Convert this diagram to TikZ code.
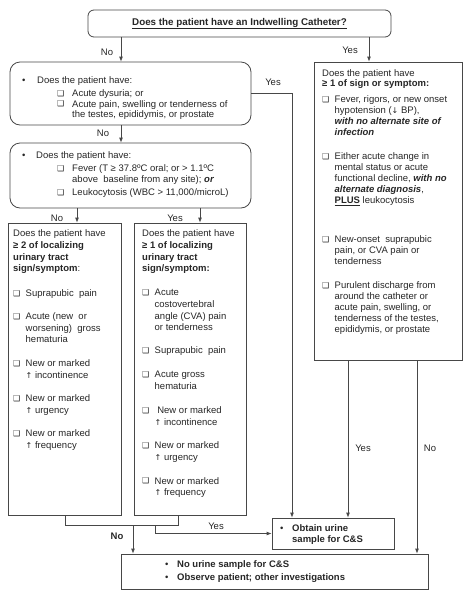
\documentclass[tikz,border=0pt]{standalone}
\usepackage{fontspec}
\setmainfont{Liberation Sans}
\newfontfamily\dv{DejaVu Sans}
\usetikzlibrary{arrows.meta}
\definecolor{linec}{gray}{0.28}
\definecolor{textc}{gray}{0.15}
\newcommand\cbg{\raisebox{0.2pt}{\dv\fontsize{8}{8}\selectfont ❑}}
\newcommand\cbx{\makebox[12.5pt][l]{\cbg}}
\newcommand\upar{{\dv\fontsize{8}{8}\selectfont ↑}}
\newcommand\dnar{{\dv\fontsize{8}{8}\selectfont ↓}}
\newcommand\ind{\hspace*{12.5pt}}
\newcommand\fst{\rule{0pt}{7pt}}
\begin{document}
\begin{tikzpicture}[x=1pt,y=-1pt,
  box/.style={draw=linec, line width=0.8pt, inner sep=0pt},
  txt/.style={align=left, inner sep=0pt, anchor=north west, text=textc},
  lbl/.style={inner sep=0pt, font=\fontsize{9.5}{11}\selectfont, text=textc},
  arr/.style={draw=linec, line width=0.8pt, -{Latex[length=5pt,width=4pt]}},
  ln/.style={draw=linec, line width=0.8pt}]
\useasboundingbox (0,0) rectangle (471,600);
% boxes
\node[box, rounded corners=6pt, minimum width=303pt, minimum height=27pt, text=textc,
  font=\fontsize{9.8}{11}\selectfont\bfseries] (top) at (239.5,23.5)
  {\underline{Does the patient have an Indwelling Catheter?}};
\node[box, rounded corners=10pt, minimum width=241pt, minimum height=63pt] (b2) at (130.5,93.5) {};
\node[box, rounded corners=10pt, minimum width=241pt, minimum height=65pt] (b3) at (130.5,175.5) {};
\node[box, minimum width=113pt, minimum height=292pt] (lb) at (64.5,369) {};
\node[box, minimum width=112pt, minimum height=292pt] (mb) at (190,369) {};
\node[box, minimum width=148pt, minimum height=298pt] (rb) at (388,211) {};
\node[box, minimum width=122pt, minimum height=31pt] (ob) at (333,533.5) {};
\node[box, minimum width=307pt, minimum height=35pt] (fin) at (274.5,571.5) {};
% texts
\node[txt, font=\fontsize{9.5}{10.3}\selectfont] (b2t) at (22,76.5)
{\fst\makebox[15pt][l]{•}Does the patient have:\\[2.7pt]
 \hspace*{35pt}\makebox[15pt][l]{\cbg}Acute dysuria; or\\
 \hspace*{35pt}\makebox[15pt][l]{\cbg}Acute pain, swelling or tenderness of\\
 \hspace*{50pt}the testes, epididymis, or prostate};
\node[txt, font=\fontsize{9.5}{11.5}\selectfont] (b3t) at (22,151.5)
{\fst\makebox[14pt][l]{•}Does the patient have:\\[1.5pt]
 \hspace*{35pt}\makebox[15pt][l]{\cbg}Fever (T ≥ 37.8ºC oral; or > 1.1ºC\\[-0.5pt]
 \hspace*{50pt}above\ \ baseline from any site); \textbf{\textit{or}}\\[1.5pt]
 \hspace*{35pt}\makebox[15pt][l]{\cbg}Leukocytosis (WBC > 11,000/microL)};
\node[txt, font=\fontsize{9.5}{11.7}\selectfont] (lbt) at (13,229.5)
{\fst Does the patient have\\
 \textbf{≥ 2 of localizing}\\
 \textbf{urinary tract}\\
 \textbf{sign/symptom}:\\[13pt]
 \cbx Suprapubic\ \ pain\\[11.3pt]
 \cbx Acute (new\ \ or\\
 \ind worsening)\ \ gross\\
 \ind hematuria\\[12.3pt]
 \cbx New or marked\\
 \ind\upar\ incontinence\\[11.3pt]
 \cbx New or marked\\
 \ind\upar\ urgency\\[11.3pt]
 \cbx New or marked\\
 \ind\upar\ frequency};
\node[txt, font=\fontsize{9.5}{11.7}\selectfont] (mbt) at (142,229.5)
{\fst Does the patient have\\
 \textbf{≥ 1 of localizing}\\
 \textbf{urinary tract}\\
 \textbf{sign/symptom:}\\[12.3pt]
 \cbx Acute\\
 \ind costovertebral\\
 \ind angle (CVA) pain\\
 \ind or tenderness\\[11.3pt]
 \cbx Suprapubic\ \ pain\\[12.3pt]
 \cbx Acute gross\\
 \ind hematuria\\[12.3pt]
 \cbx\ New or marked\\
 \ind\upar\ incontinence\\[11.3pt]
 \cbx New or marked\\
 \ind\upar\ urgency\\[12.3pt]
 \cbx New or marked\\
 \ind\upar\ frequency};
\node[txt, font=\fontsize{9.5}{11}\selectfont] (rbt) at (322,69.5)
{\fst Does the patient have\\[-1pt]
 \textbf{≥ 1 of sign or symptom:}\\[5pt]
 \cbx Fever, rigors, or new onset\\
 \ind hypotension (\dnar\ BP),\\
 \ind\textbf{\textit{with no alternate site of}}\\
 \ind\textbf{\textit{infection}}\\[13pt]
 \cbx Either acute change in\\
 \ind mental status or acute\\
 \ind functional decline, \textbf{\textit{with no}}\\
 \ind\textbf{\textit{alternate diagnosis}},\\
 \ind\textbf{\underline{PLUS}} leukocytosis\\[28pt]
 \cbx New-onset\ \ suprapubic\\
 \ind pain, or CVA pain or\\
 \ind tenderness\\[13pt]
 \cbx Purulent discharge from\\
 \ind around the catheter or\\
 \ind acute pain, swelling, or\\
 \ind tenderness of the testes,\\
 \ind epididymis, or prostate};
\node[txt, font=\fontsize{9.5}{11}\selectfont] (obt) at (280,524.5)
{\fst\makebox[12pt][l]{•}\textbf{Obtain urine}\\
 \hspace*{12pt}\textbf{sample for C\&S}};
\node[txt, font=\fontsize{9.5}{13}\selectfont] (fint) at (165,560.5)
{\fst\makebox[12pt][l]{•}\textbf{No urine sample for C\&S}\\
 \makebox[12pt][l]{•}\textbf{Observe patient; other investigations}};
% labels
\node[lbl] (l1) at (107,52) {No};
\node[lbl] (l2) at (350,50) {Yes};
\node[lbl] (l3) at (273,82) {Yes};
\node[lbl] (l4) at (103,133) {No};
\node[lbl] (l5) at (57,218) {No};
\node[lbl] (l6) at (175,218) {Yes};
\node[lbl] (l7) at (363,448) {Yes};
\node[lbl] (l8) at (430,448) {No};
\node[lbl] (l9) at (216,526) {Yes};
\node[lbl, font=\fontsize{9.5}{11}\selectfont\bfseries] (l10) at (117,536) {No};
% connectors
\draw[arr] (top.south -| 121,0) -- (b2.north -| 121,0);
\draw[arr] (top.south -| 369,0) -- (rb.north -| 369,0);
\draw[arr] (b2.south -| 121,0) -- (b3.north -| 121,0);
\draw[arr] (b2.east) -| (ob.north -| 292,0);
\draw[arr] (b3.south -| 77,0) -- (lb.north -| 77,0);
\draw[arr] (b3.south -| 200,0) -- (mb.north -| 200,0);
\draw[arr] (rb.south -| 348,0) -- (ob.north -| 348,0);
\draw[arr] (rb.south -| 417,0) -- (fin.north -| 417,0);
\coordinate (jl) at (65,525);
\coordinate (jr) at (178,525);
\coordinate (jn) at (133,525);
\coordinate (jy) at (155,525);
\draw[ln] (lb.south -| jl) -- (jl) -- (jr) -- (mb.south -| jr);
\draw[arr] (jn) -- (fin.north -| jn);
\draw[arr] (jy) |- (ob.west);
\end{tikzpicture}
\end{document}
